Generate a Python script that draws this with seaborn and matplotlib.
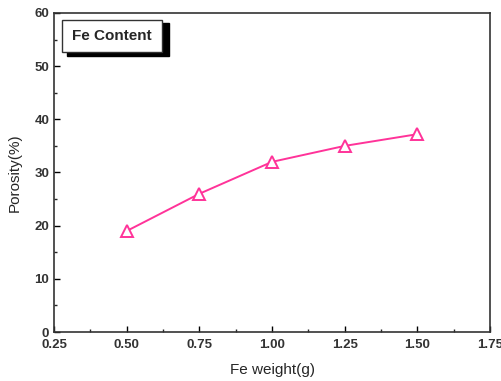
import matplotlib
matplotlib.use("Agg")
import matplotlib.pyplot as plt
from matplotlib.patches import Rectangle
from matplotlib.ticker import MultipleLocator
import seaborn as sns
import pandas as pd

fe_weight = [0.50, 0.75, 1.00, 1.25, 1.50]
porosity = [19.0, 26.0, 32.0, 35.0, 37.2]
xticks = [0.25, 0.50, 0.75, 1.00, 1.25, 1.50, 1.75]
yticks = [0, 10, 20, 30, 40, 50, 60]

sns.set_style("white")
plt.rcParams['font.family'] = ['Liberation Sans', 'DejaVu Sans']

df = pd.DataFrame({"w": fe_weight, "p": porosity})

fig = plt.figure(figsize=(5.01, 3.81), dpi=100)
ax = fig.add_axes([0.108, 0.1286, 0.870, 0.8374])

sns.lineplot(data=df, x="w", y="p", ax=ax, color="#ff3399", lw=1.4,
             marker="^", markersize=8, markerfacecolor="white",
             markeredgecolor="#ff3399", markeredgewidth=1.4)

ax.set_xlim(0.25, 1.75)
ax.set_ylim(0, 60)
ax.set_xticks(xticks)
ax.set_xticklabels([f"{v:.2f}" for v in xticks])
ax.set_yticks(yticks)
ax.xaxis.set_minor_locator(MultipleLocator(0.125))
ax.yaxis.set_minor_locator(MultipleLocator(5))
ax.tick_params(axis="both", which="major", direction="in", length=4, width=1,
               labelsize=9.5, top=False, right=False, bottom=True, left=True, colors="black")
ax.tick_params(axis="x", which="major", pad=5)
ax.tick_params(axis="both", which="minor", direction="in", length=2, width=1,
               top=False, right=False, bottom=True, left=True)
for lab in ax.get_xticklabels() + ax.get_yticklabels():
    lab.set_fontweight("bold")
    lab.set_color("#333333")
for s in ax.spines.values():
    s.set_visible(True)
    s.set_color("#333333")
    s.set_linewidth(1.2)

ax.set_xlabel("Fe weight(g)", fontsize=11, labelpad=9)
ax.set_ylabel("Porosity(%)", fontsize=11, labelpad=9)

# label box with shadow
ax.add_patch(Rectangle((0.030, 0.865), 0.234, 0.104, transform=ax.transAxes,
                       facecolor="black", edgecolor="black", zorder=5))
ax.add_patch(Rectangle((0.018, 0.878), 0.230, 0.100, transform=ax.transAxes,
                       facecolor="white", edgecolor="#333333", lw=1, zorder=6))
ax.text(0.133, 0.928, "Fe Content", transform=ax.transAxes, ha="center", va="center",
        fontsize=11, fontweight="bold", zorder=7)

fig.savefig("out.png", dpi=100)
